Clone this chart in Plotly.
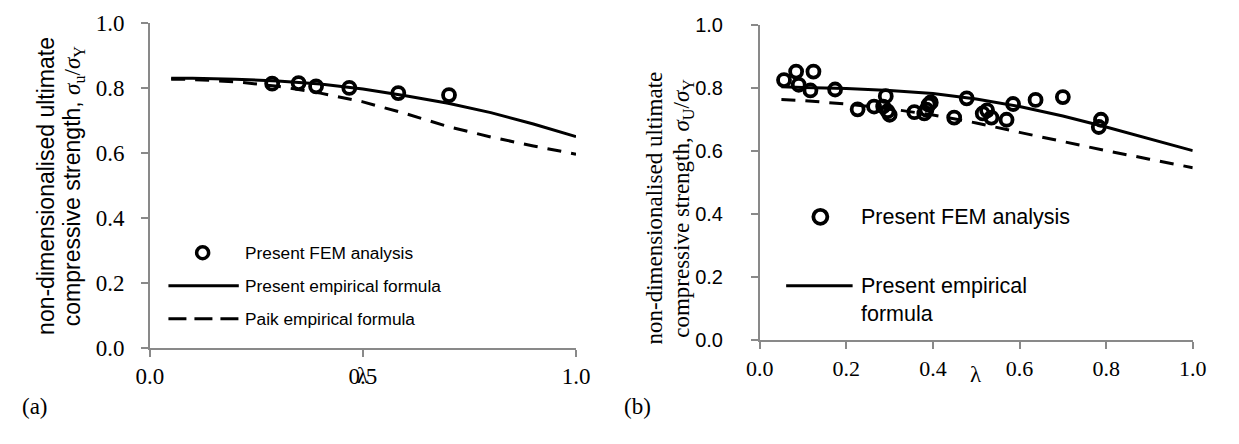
import plotly.graph_objects as go

# ---------------- data ----------------
# Panel (a)
a_fem_x = [0.287, 0.349, 0.390, 0.468, 0.583, 0.702]
a_fem_y = [0.814, 0.816, 0.806, 0.801, 0.785, 0.779]
a_curve_x = [0.05, 0.1, 0.2, 0.3, 0.4, 0.5, 0.6, 0.7, 0.8, 0.9, 1.0]
a_present_y = [0.831, 0.831, 0.828, 0.822, 0.813, 0.798, 0.777, 0.754, 0.725, 0.690, 0.651]
a_paik_y = [0.828, 0.827, 0.820, 0.806, 0.785, 0.758, 0.722, 0.682, 0.650, 0.622, 0.597]

# Panel (b)
b_fem_x = [0.056, 0.084, 0.090, 0.117, 0.124, 0.174, 0.226, 0.264, 0.285, 0.291, 0.295, 0.300,
           0.357, 0.380, 0.385, 0.390, 0.395, 0.449, 0.478, 0.515, 0.525, 0.535, 0.570, 0.585,
           0.637, 0.700, 0.783, 0.788]
b_fem_y = [0.826, 0.853, 0.811, 0.793, 0.853, 0.796, 0.733, 0.742, 0.742, 0.775, 0.727, 0.716,
           0.724, 0.720, 0.732, 0.748, 0.755, 0.707, 0.768, 0.720, 0.730, 0.707, 0.700, 0.750,
           0.763, 0.772, 0.677, 0.700]
b_curve_x = [0.05, 0.1, 0.2, 0.3, 0.4, 0.5, 0.6, 0.7, 0.8, 0.9, 1.0]
b_present_y = [0.805, 0.802, 0.799, 0.793, 0.783, 0.766, 0.742, 0.712, 0.677, 0.640, 0.602]
b_paik_y = [0.764, 0.761, 0.750, 0.735, 0.715, 0.690, 0.660, 0.630, 0.602, 0.575, 0.548]

a_xticks = [0.0, 0.5, 1.0]
b_xticks = [0.0, 0.2, 0.4, 0.6, 0.8, 1.0]
yticks = [0.0, 0.2, 0.4, 0.6, 0.8, 1.0]

W, H = 1239, 444
SERIF = "Liberation Serif, Times New Roman, Times, serif"
SANS = "Liberation Sans, Arial, Helvetica, sans-serif"
AXC = "#898989"


def px_x(p):
    return p / W


def px_y(p):
    return 1 - p / H


fig = go.Figure()

marker = dict(symbol="circle-open", size=12, color="black", line=dict(width=3.8, color="black"))

# panel a traces
fig.add_trace(go.Scatter(x=a_curve_x, y=a_paik_y, mode="lines", xaxis="x", yaxis="y",
                         line=dict(color="black", width=3, dash="14px,10px"), showlegend=False))
fig.add_trace(go.Scatter(x=a_curve_x, y=a_present_y, mode="lines", xaxis="x", yaxis="y",
                         line=dict(color="black", width=3), showlegend=False))
fig.add_trace(go.Scatter(x=a_fem_x, y=a_fem_y, mode="markers", xaxis="x", yaxis="y",
                         marker=marker, showlegend=False))
# panel b traces
fig.add_trace(go.Scatter(x=b_curve_x, y=b_paik_y, mode="lines", xaxis="x2", yaxis="y2",
                         line=dict(color="black", width=3, dash="14px,10px"), showlegend=False))
fig.add_trace(go.Scatter(x=b_curve_x, y=b_present_y, mode="lines", xaxis="x2", yaxis="y2",
                         line=dict(color="black", width=3), showlegend=False))
fig.add_trace(go.Scatter(x=b_fem_x, y=b_fem_y, mode="markers", xaxis="x2", yaxis="y2",
                         marker=marker, showlegend=False))

common_x = dict(range=[0, 1], showgrid=False, zeroline=False, showline=True, linecolor=AXC,
                linewidth=1.5, ticks="outside", ticklen=7, tickcolor=AXC, tickwidth=1.5,
                tickformat=".1f", fixedrange=True)
common_y = dict(range=[0, 1], showgrid=False, zeroline=False, showline=True, linecolor=AXC,
                linewidth=1.5, ticks="outside", ticklen=7, tickcolor=AXC, tickwidth=1.5,
                tickformat=".1f", tickvals=yticks, fixedrange=True)

fig.update_layout(
    width=W, height=H,
    margin=dict(l=0, r=0, t=0, b=0),
    paper_bgcolor="white", plot_bgcolor="white",
    showlegend=False,
    font=dict(family=SANS, color="black"),
    xaxis=dict(common_x, domain=[px_x(139), px_x(575)], anchor="y", tickvals=a_xticks,
               ticklabelstandoff=0, tickfont=dict(family=SERIF, size=23, color="black")),
    yaxis=dict(common_y, domain=[px_y(356), px_y(12)], anchor="x", ticklabelstandoff=12,
               tickfont=dict(family=SERIF, size=23, color="black")),
    xaxis2=dict(common_x, domain=[px_x(763), px_x(1206)], anchor="y2", tickvals=b_xticks,
                ticklabelstandoff=0, tickfont=dict(family=SERIF, size=22, color="black")),
    yaxis2=dict(common_y, domain=[px_y(348), px_y(14)], anchor="x2", ticklabelstandoff=24,
                tickfont=dict(family=SANS, size=20, color="black")),
)

ann = []
# y-axis titles
ann.append(dict(text="non-dimensionalised ultimate", x=px_x(32), y=px_y(184), xref="paper", yref="paper",
                textangle=-90, showarrow=False, font=dict(family=SANS, size=23, color="black"),
                xanchor="center", yanchor="middle"))
ann.append(dict(text="compressive strength, <span style='font-family:Liberation Serif, Times New Roman, serif'><i>σ</i><sub>u</sub>/<i>σ</i><sub>Y</sub></span>",
                x=px_x(61), y=px_y(184), xref="paper", yref="paper",
                textangle=-90, showarrow=False, font=dict(family=SANS, size=23, color="black"),
                xanchor="center", yanchor="middle"))
ann.append(dict(text="non-dimensionalised ultimate", x=px_x(655), y=px_y(208), xref="paper", yref="paper",
                textangle=-90, showarrow=False, font=dict(family=SERIF, size=23, color="black"),
                xanchor="center", yanchor="middle"))
ann.append(dict(text="compressive strength, <i>σ</i><sub>U</sub>/<i>σ</i><sub>Y</sub>",
                x=px_x(685), y=px_y(208), xref="paper", yref="paper",
                textangle=-90, showarrow=False, font=dict(family=SERIF, size=23, color="black"),
                xanchor="center", yanchor="middle"))
# lambda x labels
ann.append(dict(text="λ", x=0.5, xref="x", y=px_y(385), yref="paper", showarrow=False,
                font=dict(family=SERIF, size=23, color="black"), xanchor="center", yanchor="middle"))
ann.append(dict(text="λ", x=0.5, xref="x2", y=px_y(384), yref="paper", showarrow=False,
                font=dict(family=SERIF, size=23, color="black"), xanchor="center", yanchor="middle"))
# panel labels
ann.append(dict(text="(a)", x=px_x(6), y=px_y(418), xref="paper", yref="paper", showarrow=False,
                font=dict(family=SERIF, size=23, color="black"), xanchor="left", yanchor="middle"))
ann.append(dict(text="(b)", x=px_x(622), y=px_y(418), xref="paper", yref="paper", showarrow=False,
                font=dict(family=SERIF, size=23, color="black"), xanchor="left", yanchor="middle"))

# legend texts (panel a)
for txt, yy in [("Present FEM analysis", 255), ("Present empirical formula", 290), ("Paik empirical formula", 325)]:
    ann.append(dict(text=txt, x=px_x(234), y=px_y(yy), xref="paper", yref="paper", showarrow=False,
                    font=dict(family=SANS, size=17.3, color="black"), xanchor="left", yanchor="middle"))
# legend texts (panel b)
ann.append(dict(text="Present FEM analysis", x=px_x(865), y=px_y(217), xref="paper", yref="paper",
                showarrow=False, font=dict(family=SANS, size=21.5, color="black"),
                xanchor="left", yanchor="middle"))
ann.append(dict(text="Present empirical<br>formula", x=px_x(865), y=px_y(305), xref="paper", yref="paper",
                showarrow=False, font=dict(family=SANS, size=21.5, color="black"), align="left",
                xanchor="left", yanchor="middle"))
fig.update_layout(annotations=ann)

shapes = []
# legend samples panel a
shapes.append(dict(type="circle", xref="paper", yref="paper", xsizemode="pixel", ysizemode="pixel",
                   xanchor=px_x(193), yanchor=px_y(255), x0=-6, x1=6, y0=-6, y1=6,
                   line=dict(color="black", width=3.5)))
shapes.append(dict(type="line", xref="paper", yref="paper", x0=px_x(158), x1=px_x(230),
                   y0=px_y(290), y1=px_y(290), line=dict(color="black", width=3)))
shapes.append(dict(type="line", xref="paper", yref="paper", x0=px_x(158), x1=px_x(230),
                   y0=px_y(325), y1=px_y(325), line=dict(color="black", width=3, dash="18px,8px")))
# legend samples panel b
shapes.append(dict(type="circle", xref="paper", yref="paper", xsizemode="pixel", ysizemode="pixel",
                   xanchor=px_x(825), yanchor=px_y(217), x0=-7, x1=7, y0=-7, y1=7,
                   line=dict(color="black", width=3.8)))
shapes.append(dict(type="line", xref="paper", yref="paper", x0=px_x(790), x1=px_x(858),
                   y0=px_y(290), y1=px_y(290), line=dict(color="black", width=3)))
fig.update_layout(shapes=shapes)

fig.write_html("out.html")
